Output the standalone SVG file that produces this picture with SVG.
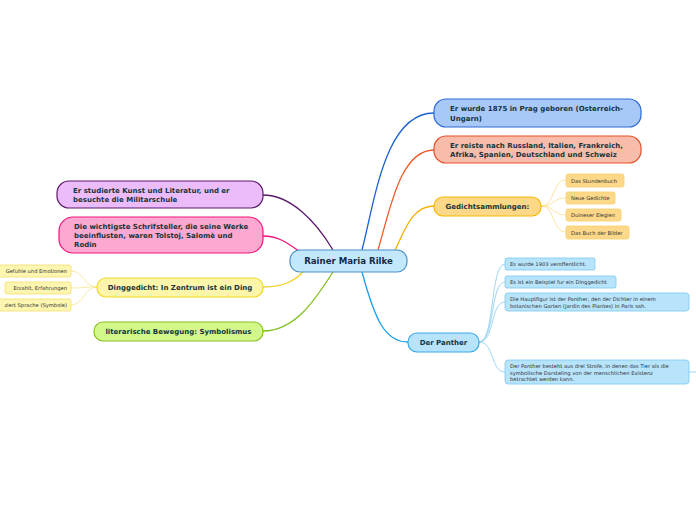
<svg xmlns="http://www.w3.org/2000/svg" width="696" height="520" viewBox="0 0 696 520">
<style>
text{font-family:"DejaVu Sans","Verdana",sans-serif;fill:#17343a}
.m{font-size:7px;font-weight:bold}
.s{font-size:5.2px;fill:#333}
.c{font-size:8.6px;font-weight:bold;fill:#142a48}
.n{stroke-width:1.2}
.w{fill:none;stroke-width:1.3}
.t{fill:none;stroke-width:0.8}
</style>
<rect width="696" height="520" fill="#ffffff"/>
<g id="connectors">
<path class="w" stroke="#1a5fd0" d="M362,250 C375,200 385,113 434,113"/>
<path class="w" stroke="#f05a28" d="M378,250 C390,210 400,150 434,150"/>
<path class="w" stroke="#f5b000" d="M395,250 C405,230 412,206 434,206"/>
<path class="w" stroke="#5a1a6a" d="M333,250 C315,220 290,195 263,195"/>
<path class="w" stroke="#f0157a" d="M300,252 C290,245 280,236 263,236"/>
<path class="w" stroke="#f0d020" d="M303,272 C295,280 285,287 263,287"/>
<path class="w" stroke="#80c020" d="M333,272 C315,300 295,331 263,331"/>
<path class="w" stroke="#1aa0e8" d="M362,272 C375,320 385,342 408,342"/>
<g stroke="#fbdc8a" class="t">
<path d="M541,206 C555,206 552,180 566,180"/>
<path d="M541,206 C555,206 552,198 566,198"/>
<path d="M541,206 C555,206 552,215 566,215"/>
<path d="M541,206 C555,206 552,232 566,232"/>
</g>
<g stroke="#f8e48a" class="t">
<path d="M97,287 C84,287 84,271 71,271"/>
<path d="M97,287 C84,287 84,288 71,288"/>
<path d="M97,287 C84,287 84,305 71,305"/>
</g>
<g stroke="#88ccf0" class="t">
<path d="M479,342 C495,342 490,264 505,264"/>
<path d="M479,342 C495,342 490,282 505,282"/>
<path d="M479,342 C495,342 490,302 505,302"/>
<path d="M479,342 C495,342 490,372 505,372"/>
<path d="M689,372 L696,372"/>
</g>
</g>
<g id="center">
<rect x="290" y="250" width="117" height="22" rx="10" fill="#c4e8fb" stroke="#4a90c9" class="n"/>
<text class="c" x="348.5" y="264" text-anchor="middle">Rainer Maria Rilke</text>
</g>
<g id="n-geboren">
<rect x="434" y="99" width="207" height="28" rx="12" fill="#a8c8f8" stroke="#2a6bd6" class="n"/>
<text class="m" x="450" y="111">Er wurde 1875 in Prag geboren (Osterreich-</text>
<text class="m" x="450" y="121">Ungarn)</text>
</g>
<g id="n-reiste">
<rect x="434" y="136" width="207" height="27" rx="12" fill="#f8bcaa" stroke="#e8502a" class="n"/>
<text class="m" x="450" y="148">Er reiste nach Russland, Italien, Frankreich,</text>
<text class="m" x="450" y="157">Afrika, Spanien, Deutschland und Schweiz</text>
</g>
<g id="n-gedicht">
<rect x="434" y="197" width="107" height="19" rx="9" fill="#fdd888" stroke="#f5b800" class="n"/>
<text class="m" x="487.5" y="209" text-anchor="middle">Gedichtsammlungen:</text>
</g>
<g id="g1"><rect x="566" y="174" width="58" height="13" rx="2" fill="#fdd888" stroke="#f8d070" stroke-width="0.8"/><text class="s" x="571" y="182.5">Das Stundenbuch</text></g>
<g id="g2"><rect x="566" y="192" width="49" height="12" rx="2" fill="#fdd888" stroke="#f8d070" stroke-width="0.8"/><text class="s" x="571" y="200">Neue Gedichte</text></g>
<g id="g3"><rect x="566" y="209" width="55" height="12" rx="2" fill="#fdd888" stroke="#f8d070" stroke-width="0.8"/><text class="s" x="571" y="217">Duineser Elegien</text></g>
<g id="g4"><rect x="566" y="226" width="63" height="13" rx="2" fill="#fdd888" stroke="#f8d070" stroke-width="0.8"/><text class="s" x="571" y="234.5">Das Buch der Bilder</text></g>
<g id="n-studierte">
<rect x="57" y="181" width="206" height="27" rx="12" fill="#ebbcf9" stroke="#5a1a6a" class="n"/>
<text class="m" x="73" y="193">Er studierte Kunst und Literatur, und er</text>
<text class="m" x="73" y="202">besuchte die Militarschule</text>
</g>
<g id="n-schriftsteller">
<rect x="59" y="217" width="204" height="36" rx="14" fill="#fca8d0" stroke="#f0157a" class="n"/>
<text class="m" x="74" y="229">Die wichtigste Schrifsteller, die seine Werke</text>
<text class="m" x="74" y="238">beeinflusten, waren Tolstoj, Salomè und</text>
<text class="m" x="74" y="247">Rodin</text>
</g>
<g id="n-dinggedicht">
<rect x="97" y="278" width="166" height="19" rx="9" fill="#fdf6aa" stroke="#f0d820" class="n"/>
<text class="m" x="180" y="290" text-anchor="middle">Dinggedicht: In Zentrum ist ein Ding</text>
</g>
<g id="d1"><rect x="-10" y="265" width="81" height="12" rx="2" fill="#fdf6b0" stroke="#f5e070" stroke-width="0.8"/><text class="s" x="67" y="273" text-anchor="end">Gefuhle und Emotionen</text></g>
<g id="d2"><rect x="5" y="282" width="66" height="12" rx="2" fill="#fdf6b0" stroke="#f5e070" stroke-width="0.8"/><text class="s" x="67" y="290" text-anchor="end">Erzahlt, Erfahrungen</text></g>
<g id="d3"><rect x="-10" y="299" width="81" height="12" rx="2" fill="#fdf6b0" stroke="#f5e070" stroke-width="0.8"/><text class="s" x="67" y="307" text-anchor="end">ziert Sprache (Symbole)</text></g>
<g id="n-symbolismus">
<rect x="94" y="322" width="169" height="19" rx="9" fill="#d2f88a" stroke="#8ac020" class="n"/>
<text class="m" x="178.5" y="334" text-anchor="middle">literarische Bewegung: Symbolismus</text>
</g>
<g id="n-panther">
<rect x="408" y="333" width="71" height="19" rx="9" fill="#b8e4fb" stroke="#38a8e8" class="n"/>
<text class="m" x="443.5" y="345" text-anchor="middle">Der Panther</text>
</g>
<g id="p1"><rect x="505" y="258" width="90" height="12" rx="2" fill="#b8e4fb" stroke="#78c8f0" stroke-width="0.8"/><text class="s" x="510" y="266">Es wurde 1903 veroffentlicht.</text></g>
<g id="p2"><rect x="505" y="276" width="111" height="12" rx="2" fill="#b8e4fb" stroke="#78c8f0" stroke-width="0.8"/><text class="s" x="510" y="284">Es ist ein Beispiel fur ein Dinggedicht</text></g>
<g id="p3"><rect x="505" y="293" width="184" height="18" rx="3" fill="#b8e4fb" stroke="#78c8f0" stroke-width="0.8"/><text class="s" x="510" y="301">Die Hauptfigur ist der Panther, den der Dichter in einem</text><text class="s" x="510" y="308">botanischen Garten (Jardin des Plantes) in Paris sah.</text></g>
<g id="p4"><rect x="505" y="360" width="184" height="24" rx="3" fill="#b8e4fb" stroke="#78c8f0" stroke-width="0.8"/><text class="s" x="510" y="368">Der Panther besteht aus drei Strofe, in denen das Tier als die</text><text class="s" x="510" y="374.5">symbolische Darsteling von der menschlichen Existenz</text><text class="s" x="510" y="381">betrachtet werden kann.</text></g>
</svg>
